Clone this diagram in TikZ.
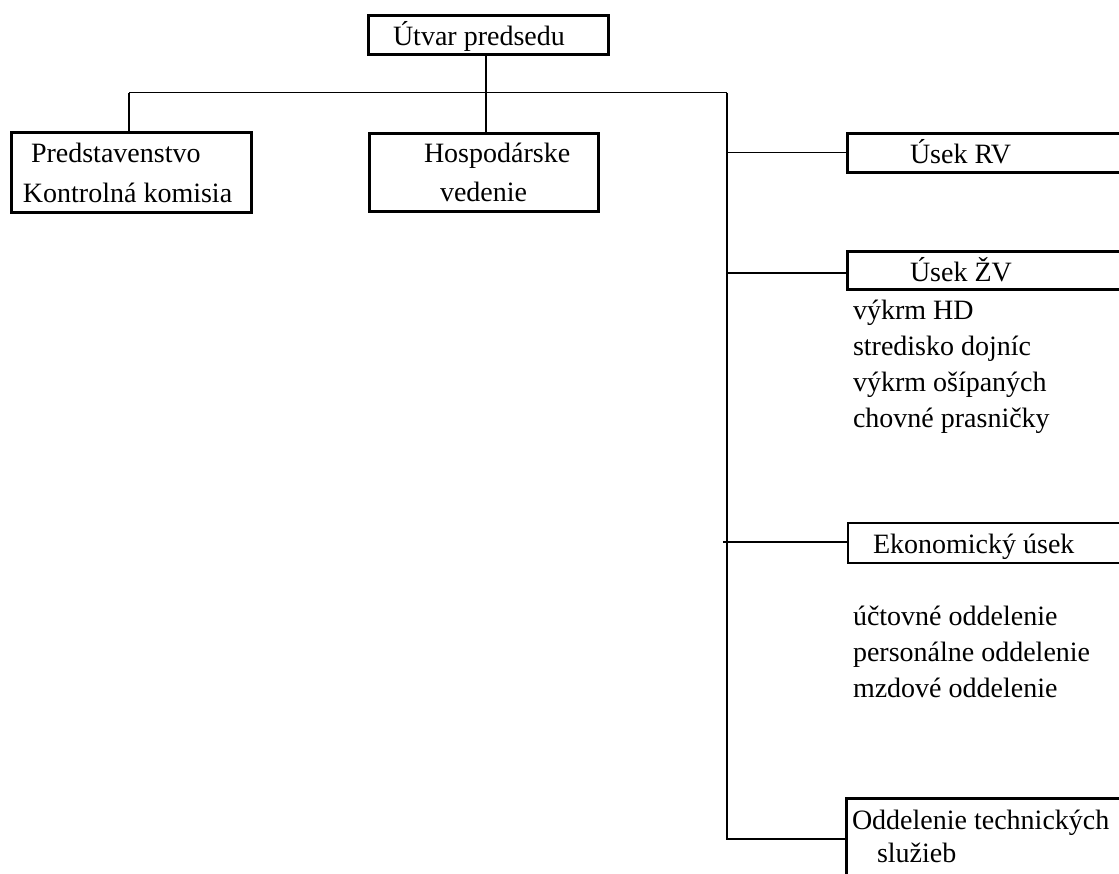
\documentclass[tikz,border=0pt]{standalone}
\usepackage{fontspec}
\setmainfont{Liberation Serif}
\tikzset{
  box/.style={draw=black, line width=3pt, inner sep=0pt, outer sep=0pt, anchor=north west},
  thinbox/.style={draw=black, line width=1.2pt, inner sep=0pt, outer sep=0pt, anchor=north west},
  conn/.style={draw=black, line width=1.4pt},
  txt/.style={inner sep=0pt, outer sep=0pt, anchor=base west, font=\fontsize{28}{34}\selectfont}
}
\begin{document}
\begin{tikzpicture}[x=1pt,y=-1pt]
\useasboundingbox (0,0) rectangle (1119,873);
\clip (0,0) rectangle (1119,873);
\fill[white] (0,0) rectangle (1119,873);
% boxes
\node[box, minimum width=240pt, minimum height=39pt] (top) at (368,15) {};
\node[box, minimum width=240pt, minimum height=80pt] (pred) at (11,132) {};
\node[box, minimum width=229pt, minimum height=78pt] (hosp) at (369,133) {};
\node[box, minimum width=300pt, minimum height=39pt] (rv) at (847,133) {};
\node[box, minimum width=300pt, minimum height=38pt] (zv) at (847,251) {};
\node[thinbox, minimum width=300pt, minimum height=40pt] (eko) at (848,523) {};
\node[box, minimum width=300pt, minimum height=100pt] (odd) at (846,798) {};
% texts
\node[txt] (tTop) at (393,45) {Útvar predsedu};
\node[txt] (tPred1) at (31,162) {Predstavenstvo};
\node[txt] (tPred2) at (23,202) {Kontrolná komisia};
\node[txt] (tHosp1) at (424,162) {Hospodárske};
\node[txt] (tHosp2) at (440,201) {vedenie};
\node[txt] (tRV) at (910,163) {Úsek RV};
\node[txt] (tZV) at (910,281) {Úsek ŽV};
\node[txt] (z1) at (853,319) {výkrm HD};
\node[txt] (z2) at (853,355) {stredisko dojníc};
\node[txt] (z3) at (853,391) {výkrm ošípaných};
\node[txt] (z4) at (853,427) {chovné prasničky};
\node[txt] (tEko) at (873,553) {Ekonomický úsek};
\node[txt] (e1) at (853,625) {účtovné oddelenie};
\node[txt] (e2) at (853,661) {personálne oddelenie};
\node[txt] (e3) at (853,697) {mzdové oddelenie};
\node[txt] (tOdd1) at (852,829) {Oddelenie technických};
\node[txt] (tOdd2) at (877,862) {služieb};
% connectors
\coordinate (busL) at (129,92.5);
\coordinate (busR) at (727,92.5);
\coordinate (spineEnd) at (727,839);
\draw[conn] (busL) -- (busR);
\draw[conn] (top.south -| 486,0) -- (hosp.north -| 486,0);
\draw[conn] (busL) -- (busL |- pred.north);
\draw[conn] (busR) -- (spineEnd) -- (spineEnd -| odd.west);
\draw[conn] (busR |- rv.west) -- (rv.west);
\draw[conn] (busR |- 0,273) -- (zv.west |- 0,273);
\draw[conn] (723,542) -- (eko.west |- 0,542);
\end{tikzpicture}
\end{document}
